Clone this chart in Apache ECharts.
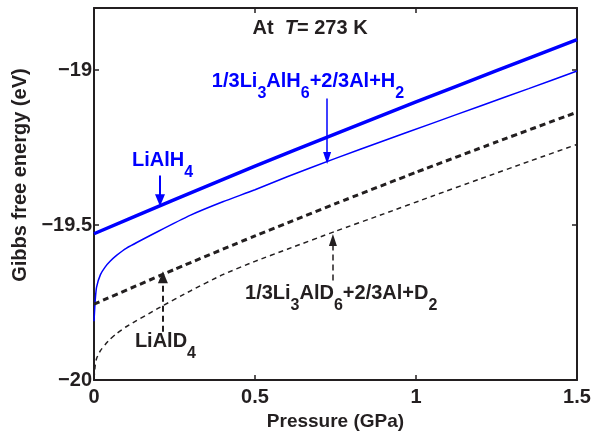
<!DOCTYPE html>
<html>
<head>
<meta charset="utf-8">
<script src="https://cdn.jsdelivr.net/npm/echarts@6/dist/echarts.min.js"></script>
<style>
  html, body { margin: 0; padding: 0; background: #fff; }
  #chart { width: 602px; height: 436px; }
</style>
</head>
<body>
<div id="chart"></div>
<script>
// pressure (GPa) samples and Gibbs free energy (eV)
const xThin = [0, 0.004, 0.008, 0.02, 0.035, 0.05, 0.07, 0.1, 0.2, 0.3, 0.4, 0.5, 0.6, 0.75, 0.9, 1.05, 1.2, 1.35, 1.5]
const yLi3AlH6 = [-19.81, -19.74, -19.70, -19.66, -19.635, -19.617, -19.598, -19.575, -19.52, -19.468, -19.425, -19.386, -19.344, -19.285, -19.228, -19.172, -19.116, -19.06, -19.003]
const yLi3AlD6 = [-19.995, -19.95, -19.93, -19.905, -19.885, -19.868, -19.85, -19.828, -19.768, -19.712, -19.66, -19.617, -19.578, -19.52, -19.464, -19.407, -19.351, -19.295, -19.24]

const xThick = [0, 0.25, 0.5, 0.75, 1.0, 1.25, 1.5]
const yLiAlH4 = [-19.528, -19.418, -19.31, -19.206, -19.103, -19.002, -18.902]
const yLiAlD4 = [-19.755, -19.643, -19.535, -19.431, -19.33, -19.232, -19.136]

const xTicks = [0, 0.5, 1, 1.5]
const yTicks = [-20, -19.5, -19]

const BLUE = '#0000ff'
const INK = '#231f20'
const FONT = '"Liberation Sans", Arial, Helvetica, sans-serif'

const pairs = (xs, ys) => xs.map((x, i) => [x, ys[i]])

// arrow helper: markLine from [x, y0] to [x, y1] in data coords
function arrow(x, y0, y1, color, width, dashed, size) {
  return {
    silent: true,
    animation: false,
    symbol: ['none', 'triangle'],
    symbolSize: size,
    label: { show: false },
    emphasis: { disabled: true },
    lineStyle: { color, width, type: dashed ? [6, 4] : 'solid' },
    itemStyle: { color },
    data: [[{ coord: [x, y0] }, { coord: [x, y1] }]]
  }
}

const chart = echarts.init(document.getElementById('chart'), null, { renderer: 'canvas' })

const axisFont = { fontFamily: FONT, fontWeight: 'bold', fontSize: 20, color: INK }

chart.setOption({
  animation: false,
  grid: { left: 94, right: 25, top: 8, bottom: 50 },
  xAxis: [
    {
      type: 'value', min: 0, max: 1.5, interval: 0.5,
      name: 'Pressure (GPa)', nameLocation: 'middle', nameGap: 28,
      nameTextStyle: { ...axisFont, fontSize: 19 },
      axisLine: { lineStyle: { color: INK, width: 2 } },
      axisTick: { inside: true, length: 5, lineStyle: { color: INK, width: 1.5 } },
      axisLabel: {
        ...axisFont, margin: 7,
        formatter: v => xTicks.includes(v) ? String(v) : ''
      },
      splitLine: { show: false }
    },
    {
      type: 'value', min: 0, max: 1.5, interval: 0.5, position: 'top',
      axisLine: { onZero: false, lineStyle: { color: INK, width: 2 } },
      axisTick: { inside: true, length: 5, lineStyle: { color: INK, width: 1.5 } },
      axisLabel: { show: false },
      splitLine: { show: false }
    }
  ],
  yAxis: [
    {
      type: 'value', min: -20, max: -18.8, interval: 0.5,
      name: 'Gibbs free energy (eV)', nameLocation: 'middle', nameGap: 56,
      nameTextStyle: { ...axisFont, fontSize: 20, padding: [0, 0, 0, 38] },
      axisLine: { onZero: false, lineStyle: { color: INK, width: 2 } },
      axisTick: { inside: true, length: 5, lineStyle: { color: INK, width: 1.5 } },
      axisLabel: {
        ...axisFont, margin: 2, showMaxLabel: false,
        formatter: v => yTicks.includes(v) ? '\u2212' + String(Math.abs(v)) : ''
      },
      splitLine: { show: false }
    },
    {
      type: 'value', min: -20, max: -18.8, interval: 0.5, position: 'right',
      axisLine: { show: true, onZero: false, lineStyle: { color: INK, width: 2 } },
      axisTick: { show: true, inside: true, length: 5, lineStyle: { color: INK, width: 1.5 } },
      axisLabel: { show: false },
      splitLine: { show: false }
    }
  ],
  series: [
    {
      name: 'LiAlH4', type: 'line', data: pairs(xThick, yLiAlH4),
      showSymbol: false, smooth: 0.2,
      lineStyle: { color: BLUE, width: 3.5 },
      markLine: arrow(0.205, -19.34, -19.42, BLUE, 2, false, [10, 12])
    },
    {
      name: '1/3Li3AlH6+2/3Al+H2', type: 'line', data: pairs(xThin, yLi3AlH6),
      showSymbol: false, smooth: 0.2,
      lineStyle: { color: BLUE, width: 1.5 },
      markLine: arrow(0.724, -19.092, -19.284, BLUE, 1.5, false, [8, 12])
    },
    {
      name: 'LiAlD4', type: 'line', data: pairs(xThick, yLiAlD4),
      showSymbol: false, smooth: 0.2,
      lineStyle: { color: INK, width: 3, type: [6, 4] },
      markLine: arrow(0.214, -19.844, -19.668, INK, 2, true, [10, 12])
    },
    {
      name: '1/3Li3AlD6+2/3Al+D2', type: 'line', data: pairs(xThin, yLi3AlD6),
      showSymbol: false, smooth: 0.2,
      lineStyle: { color: INK, width: 1.5, type: [5, 4] },
      markLine: arrow(0.742, -19.679, -19.548, INK, 1.5, true, [8, 12])
    }
  ]
})

// annotations, placed from data coordinates
const rich = color => ({
  m: { fontFamily: FONT, fontWeight: 'bold', fontSize: 20, lineHeight: 20, verticalAlign: 'top', fill: color },
  i: { fontFamily: FONT, fontWeight: 'bold', fontStyle: 'italic', fontSize: 20, lineHeight: 20, verticalAlign: 'top', fill: color },
  s: { fontFamily: FONT, fontWeight: 'bold', fontSize: 16, lineHeight: 16, padding: [14, 0, 0, 0], verticalAlign: 'top', fill: color }
})

function note(text, x, y, color, align) {
  const [px, py] = chart.convertToPixel({ gridIndex: 0 }, [x, y])
  return {
    type: 'text', silent: true,
    style: { text, x: px, y: py - 10, align: align || 'left', verticalAlign: 'top', fill: color, rich: rich(color) }
  }
}

chart.setOption({
  graphic: [
    note('{m|At  }{i|T}{m|= 273 K}', 0.671, -18.867, INK, 'center'),
    note('{m|1/3Li}{s|3}{m|AlH}{s|6}{m|+2/3Al+H}{s|2}', 0.366, -19.038, BLUE),
    note('{m|LiAlH}{s|4}', 0.118, -19.292, BLUE),
    note('{m|LiAlD}{s|4}', 0.127, -19.876, INK),
    note('{m|1/3Li}{s|3}{m|AlD}{s|6}{m|+2/3Al+D}{s|2}', 0.469, -19.721, INK)
  ]
})
</script>
</body>
</html>
